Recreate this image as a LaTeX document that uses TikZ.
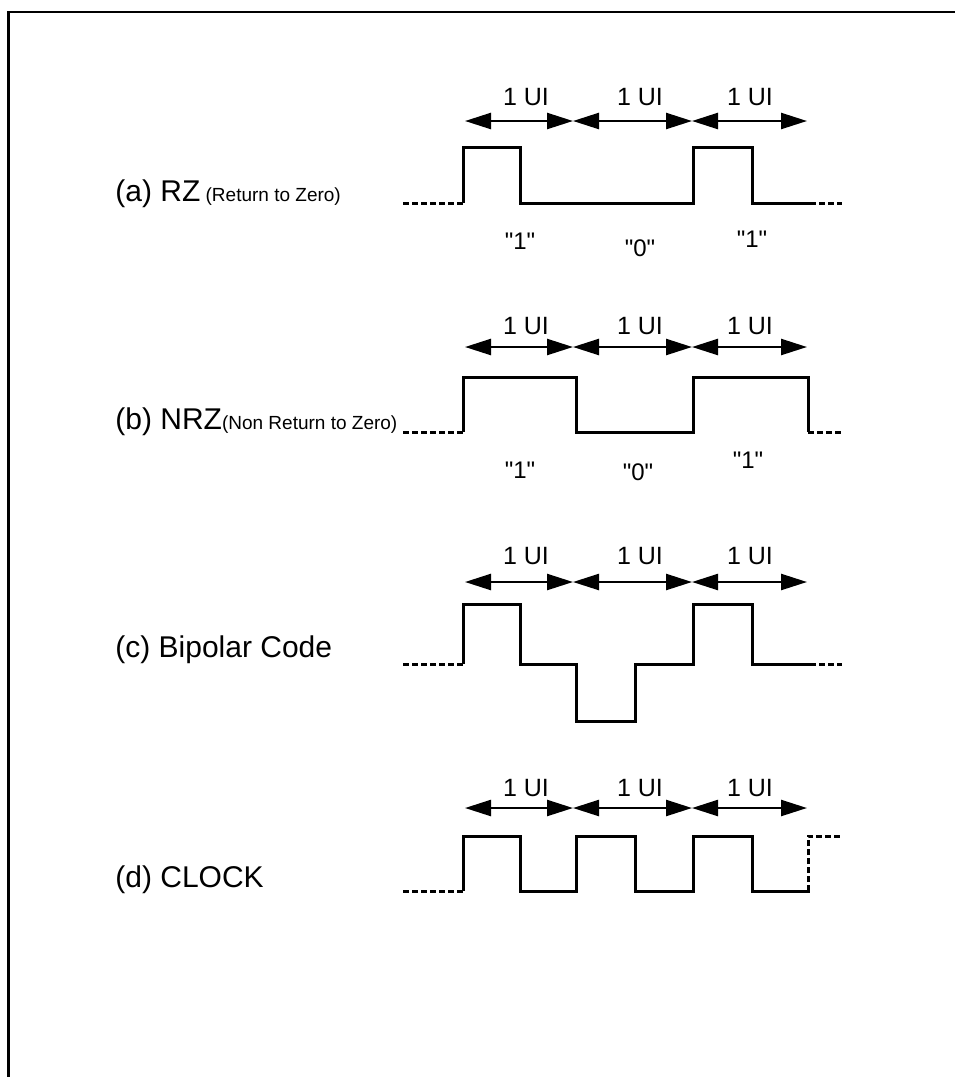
\documentclass[tikz,border=0pt]{standalone}
\usepackage{fontspec}
\setmainfont{Liberation Sans}
\newfontfamily\bitfont{Liberation Sans}[Ligatures=TeXOff]
\usetikzlibrary{arrows.meta}
\newcommand{\smallfs}{\fontsize{9.5}{11}\selectfont}
\begin{document}
\begin{tikzpicture}[x=0.5pt,y=-0.5pt,
  sig/.style={line width=1.5pt, line join=miter, line cap=butt},
  dsig/.style={line width=1.5pt, dash pattern=on 3pt off 1.5pt},
  ui/.style={line width=1.2pt, {Triangle[length=13pt,width=8pt]}-{Triangle[length=13pt,width=8pt]}},
  uitext/.style={font=\fontsize{12.5}{14}\selectfont, anchor=base, inner sep=0pt},
  bit/.style={font=\bitfont\fontsize{12}{14}\selectfont, anchor=base, inner sep=0pt},
  lab/.style={font=\fontsize{15}{18}\selectfont, anchor=base west, inner sep=0pt},
  frame/.style={line width=1.4pt}]
\useasboundingbox (0,0) rectangle (955,1077);
\draw[frame] (8.5,1077) -- (8.5,12) -- (955,12);

% UI arrows and labels
\foreach \r/\ay/\ty in {a/121/105, b/347/334, c/582/564, d/808/796} {
  \coordinate (\r0) at (465,\ay);
  \coordinate (\r1) at (573,\ay);
  \coordinate (\r2) at (692,\ay);
  \coordinate (\r3) at (807,\ay);
  \draw[ui] (\r0) -- (\r1);
  \draw[ui] (\r1) -- (\r2);
  \draw[ui] (\r2) -- (\r3);
  \node[uitext] (\r t1) at (526,\ty) {1 UI};
  \node[uitext] (\r t2) at (640,\ty) {1 UI};
  \node[uitext] (\r t3) at (750,\ty) {1 UI};
}

% row labels
\node[lab] (la) at (115,201) {(a) RZ\smallfs{} (Return to Zero)};
\node[lab] (lb) at (115,429) {(b) NRZ\smallfs(Non Return to Zero)};
\node[lab] (lc) at (115,657) {(c) Bipolar Code};
\node[lab] (ld) at (115,887) {(d) CLOCK};

% (a) RZ
\draw[dsig] (403,203) -- (463,203);
\draw[sig] (463,203) -- (463,147) -- (520,147) -- (520,203) -- (693,203) -- (693,147) -- (752,147) -- (752,203) -- (810,203);
\draw[dsig] (810,203) -- (842,203);
\node[bit] (a1) at (520,249) {"1"};
\node[bit] (a2) at (640,256) {"0"};
\node[bit] (a3) at (752,247) {"1"};

% (b) NRZ
\draw[dsig] (403,432) -- (463,432);
\draw[sig] (463,432) -- (463,377) -- (576,377) -- (576,432) -- (693,432) -- (693,377) -- (808,377) -- (808,432);
\draw[dsig] (808,432) -- (842,432);
\node[bit] (b1) at (520,478) {"1"};
\node[bit] (b2) at (638,480) {"0"};
\node[bit] (b3) at (748,468) {"1"};

% (c) Bipolar
\draw[dsig] (403,664) -- (463,664);
\draw[sig] (463,664) -- (463,604) -- (520,604) -- (520,664) -- (576,664) -- (576,721) -- (635,721) -- (635,664) -- (693,664) -- (693,604) -- (752,604) -- (752,664) -- (810,664);
\draw[dsig] (810,664) -- (842,664);

% (d) Clock
\draw[dsig] (403,891) -- (463,891);
\draw[sig] (463,891) -- (463,836) -- (520,836) -- (520,891) -- (576,891) -- (576,836) -- (635,836) -- (635,891) -- (693,891) -- (693,836) -- (752,836) -- (752,891) -- (810,891);
\draw[dsig] (808,891) -- (808,836) -- (842,836);
\end{tikzpicture}
\end{document}
